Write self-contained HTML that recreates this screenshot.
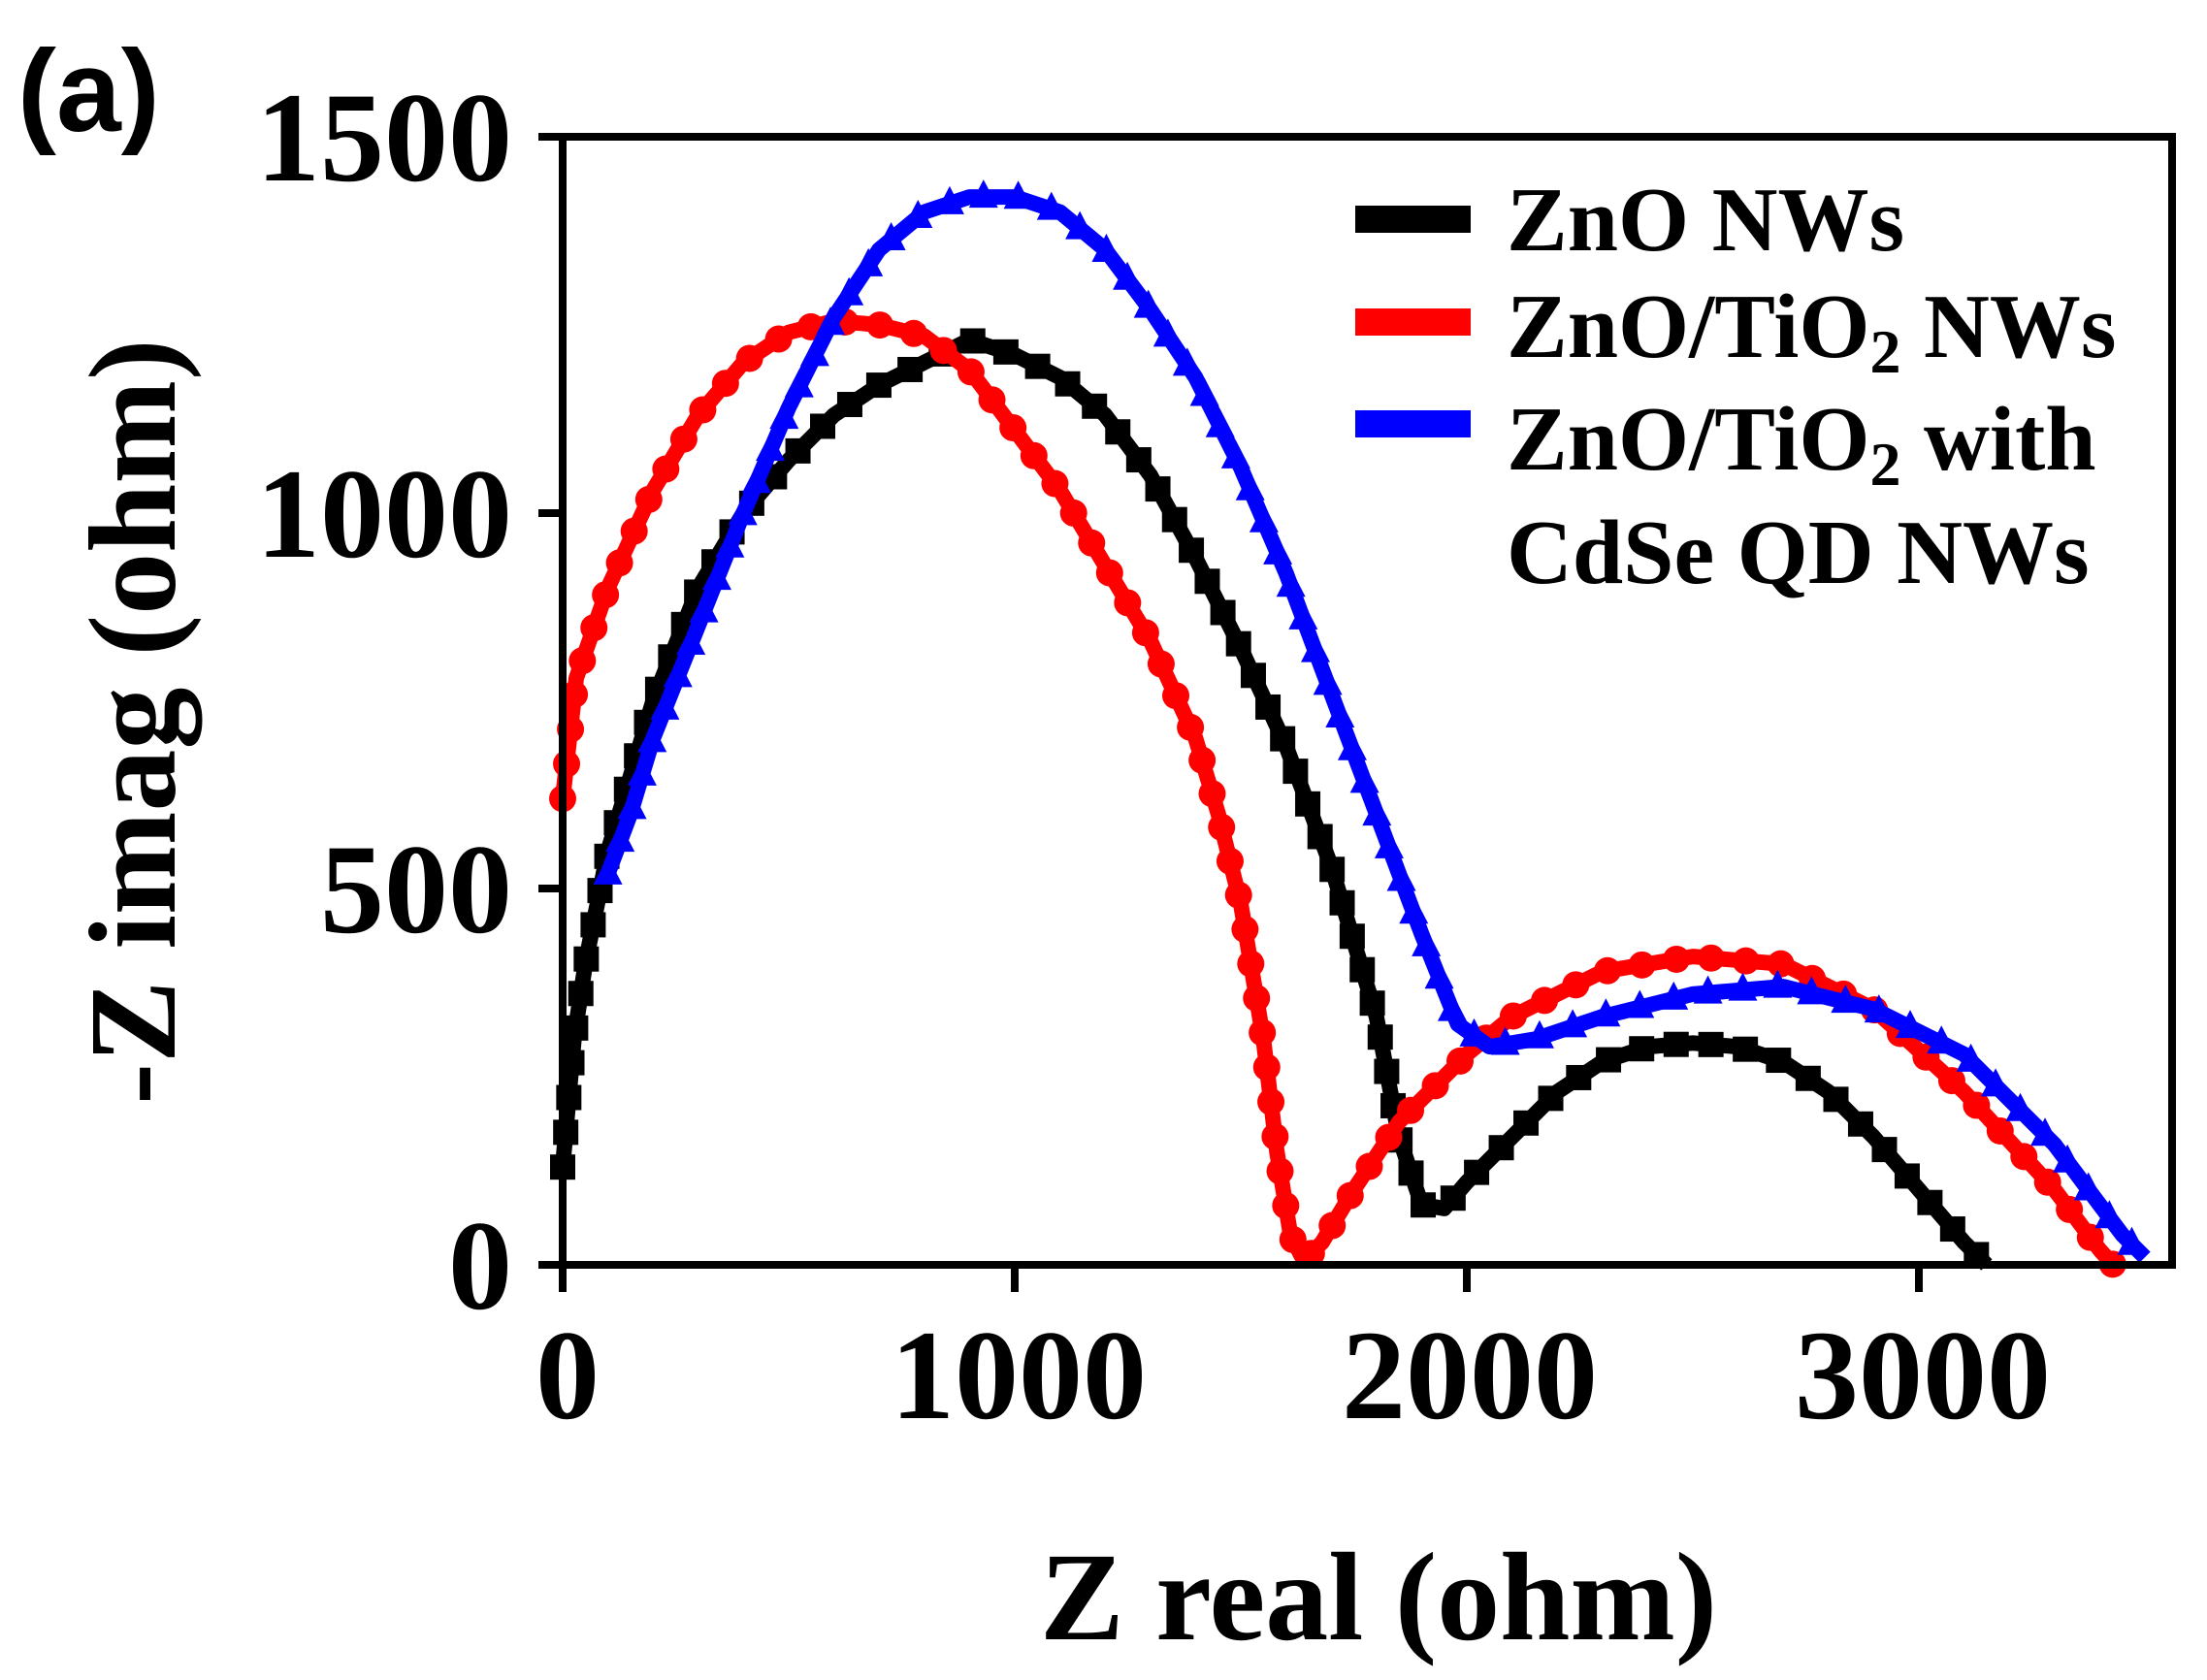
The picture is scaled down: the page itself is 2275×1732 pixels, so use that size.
<!DOCTYPE html>
<html><head><meta charset="utf-8"><style>
html,body{margin:0;padding:0;background:#fff;}
svg{display:block}
text{font-family:"Liberation Serif",serif;font-weight:bold;fill:#000}
</style></head><body>
<svg id="s" width="2275" height="1732" viewBox="0 0 2275 1732" xmlns="http://www.w3.org/2000/svg">
<rect width="2275" height="1732" fill="#fff"/>
<g id="series"></g>
<rect x="580" y="141" width="1659" height="1163" fill="none" stroke="#000" stroke-width="8"/>
<g stroke="#000" stroke-width="8">
<line x1="555" y1="141" x2="580" y2="141"/><line x1="555" y1="529" x2="580" y2="529"/>
<line x1="555" y1="916" x2="580" y2="916"/><line x1="555" y1="1304" x2="580" y2="1304"/>
<line x1="580" y1="1304" x2="580" y2="1332"/><line x1="1046" y1="1304" x2="1046" y2="1332"/>
<line x1="1512" y1="1304" x2="1512" y2="1332"/><line x1="1978" y1="1304" x2="1978" y2="1332"/>
</g>
<g font-size="132" text-anchor="end">
<text x="528" y="186">1500</text><text x="528" y="574">1000</text>
<text x="528" y="961">500</text><text x="528" y="1349">0</text>
</g>
<g font-size="132" text-anchor="middle">
<text x="585" y="1462">0</text><text x="1050" y="1462">1000</text>
<text x="1515" y="1462">2000</text><text x="1982" y="1462">3000</text>
</g>
<text x="1421" y="1690" font-size="130" text-anchor="middle">Z real (ohm)</text>
<text transform="translate(180,744) rotate(-90)" font-size="128" text-anchor="middle">-Z imag (ohm)</text>
<text x="18" y="135" font-size="120" style="font-family:'Liberation Sans',sans-serif">(a)</text>
<g stroke-width="28">
<line x1="1397" y1="226" x2="1516" y2="226" stroke="#000"/>
<line x1="1397" y1="332" x2="1516" y2="332" stroke="#f00"/>
<line x1="1397" y1="437" x2="1516" y2="437" stroke="#00f"/>
</g>
<g font-size="94">
<text x="1553" y="258">ZnO NWs</text>
<text x="1553" y="368">ZnO/TiO<tspan font-size="64" dy="16">2</tspan><tspan dy="-16"> NWs</tspan></text>
<text x="1553" y="484">ZnO/TiO<tspan font-size="64" dy="16">2</tspan><tspan dy="-16"> with</tspan></text>
<text x="1553" y="601">CdSe QD NWs</text>
</g>
</svg>
<script>
const X=v=>580+v*0.466, Y=v=>1304-v*0.7753;
const black=[[0,130],[25,300],[50,400],[100,550],[200,750],[300,900],[400,1000],[500,1070],[600,1130],[700,1170],[800,1200],[900,1230],[1000,1210],[1100,1180],[1200,1130],[1300,1050],[1400,940],[1500,820],[1600,690],[1700,530],[1800,330],[1850,170],[1900,80],[1950,75],[2000,110],[2100,170],[2200,230],[2300,270],[2400,290],[2500,295],[2600,290],[2700,270],[2800,230],[2900,170],[3000,100],[3100,30],[3150,0]];
const red=[[0,620],[30,780],[100,900],[200,1030],[300,1130],[400,1200],[500,1240],[600,1255],[700,1250],[800,1235],[900,1190],[1000,1110],[1100,1030],[1200,930],[1300,830],[1400,700],[1450,600],[1500,480],[1550,300],[1580,150],[1610,40],[1640,5],[1680,30],[1750,100],[1850,190],[2000,280],[2100,330],[2300,390],[2500,410],[2700,400],[2900,340],[3100,230],[3300,100],[3400,20],[3430,0]];
const blue=[[100,520],[150,600],[200,700],[300,850],[400,1000],[500,1140],[600,1260],[700,1350],[800,1400],[900,1420],[1000,1420],[1100,1400],[1200,1350],[1300,1270],[1400,1180],[1500,1060],[1600,920],[1700,760],[1800,600],[1900,440],[1980,320],[2050,290],[2150,300],[2300,330],[2500,360],[2700,370],[2900,340],[3100,280],[3300,160],[3450,40],[3500,10]];
const g=document.getElementById('series');let h='';
function draw(d,c,m){
 const p=d.map(a=>[X(a[0]),Y(a[1])]);
 h+=`<polyline points="${p.map(a=>a.join(',')).join(' ')}" fill="none" stroke="${c}" stroke-width="16" stroke-linejoin="round"/>`;
 let acc=0;const step=36;
 for(let i=0;i<p.length-1;i++){
  const [x1,y1]=p[i],[x2,y2]=p[i+1];const L=Math.hypot(x2-x1,y2-y1);
  let t=acc;
  while(t<L){const x=x1+(x2-x1)*t/L,y=y1+(y2-y1)*t/L;
   if(m==='s')h+=`<rect x="${x-13}" y="${y-13}" width="26" height="26" fill="${c}"/>`;
   else if(m==='c')h+=`<circle cx="${x}" cy="${y}" r="14" fill="${c}"/>`;
   else h+=`<polygon points="${x},${y-18} ${x-15},${y+11} ${x+15},${y+11}" fill="${c}"/>`;
   t+=step;}
  acc=t-L;
 }
}
draw(black,'#000','s');draw(red,'#f00','c');draw(blue,'#00f','t');
g.innerHTML=h;
</script>
</body></html>
